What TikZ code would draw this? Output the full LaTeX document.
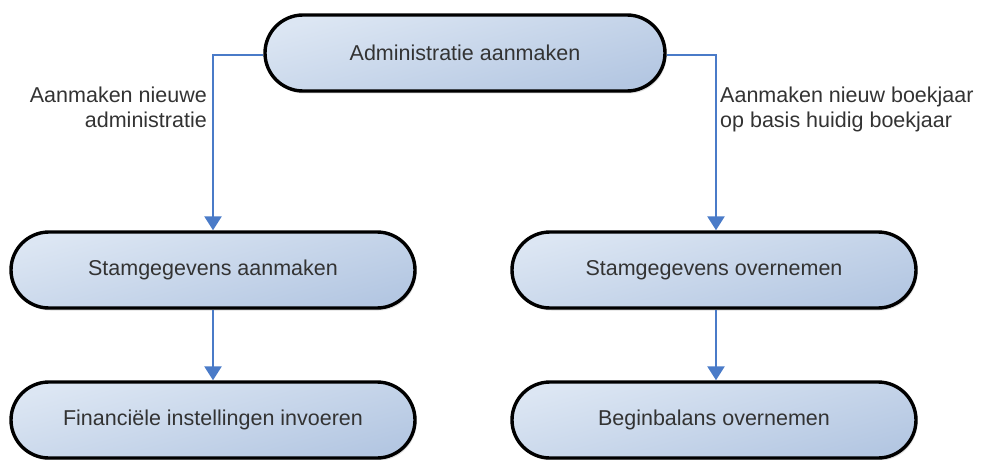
\documentclass[tikz,border=0pt]{standalone}
\usepackage{fontspec}
\setmainfont{Liberation Sans}
\usetikzlibrary{arrows.meta,shadows}
\definecolor{boxlight}{HTML}{DCE6F3}
\definecolor{boxdark}{HTML}{B4C7E2}
\definecolor{arrowblue}{HTML}{4A7BC8}
\definecolor{txt}{HTML}{333333}
\tikzset{
  proc/.style={rectangle, rounded corners=38pt, draw=black, line width=3.4pt,
    minimum width=#1, minimum height=76pt, inner sep=0pt,
    top color=boxlight, bottom color=boxdark, shading angle=15,
    drop shadow={shadow xshift=1.5pt, shadow yshift=-2.5pt, fill=black!25},
    font=\fontsize{21.5}{24}\selectfont, text=txt},
  conn/.style={draw=arrowblue, line width=2.6pt,
    -{Triangle[length=14pt,width=17pt]}},
  lbl/.style={font=\fontsize{21.5}{25}\selectfont, text=txt, inner sep=0pt},
}
\begin{document}
\begin{tikzpicture}[x=1pt,y=-1pt]
\useasboundingbox (0,0) rectangle (986,460);
\node[proc=400pt] (top) at (465,53) {Administratie aanmaken};
\node[proc=404pt] (lm) at (213,270) {Stamgegevens aanmaken};
\node[proc=404pt] (lb) at (213,420) {Financiële instellingen invoeren};
\node[proc=404pt] (rm) at (714,270) {Stamgegevens overnemen};
\node[proc=404pt] (rb) at (714,420) {Beginbalans overnemen};
\coordinate (lc) at (213,55);
\coordinate (rc) at (716,55);
\draw[conn] (top.west |- lc) -- (lc) -- (lm.north);
\draw[conn] (top.east |- rc) -- (rc) -- (rc |- rm.north);
\draw[conn] (lm) -- (lb.north);
\draw[conn] (rm.south -| rc) -- (rc |- rb.north);
\node[lbl, align=right, anchor=base east] (ll) at (207,128) {Aanmaken nieuwe\\administratie};
\node[lbl, align=left, anchor=base west] (rl) at (720,128) {Aanmaken nieuw boekjaar\\op basis huidig boekjaar};
\end{tikzpicture}
\end{document}
